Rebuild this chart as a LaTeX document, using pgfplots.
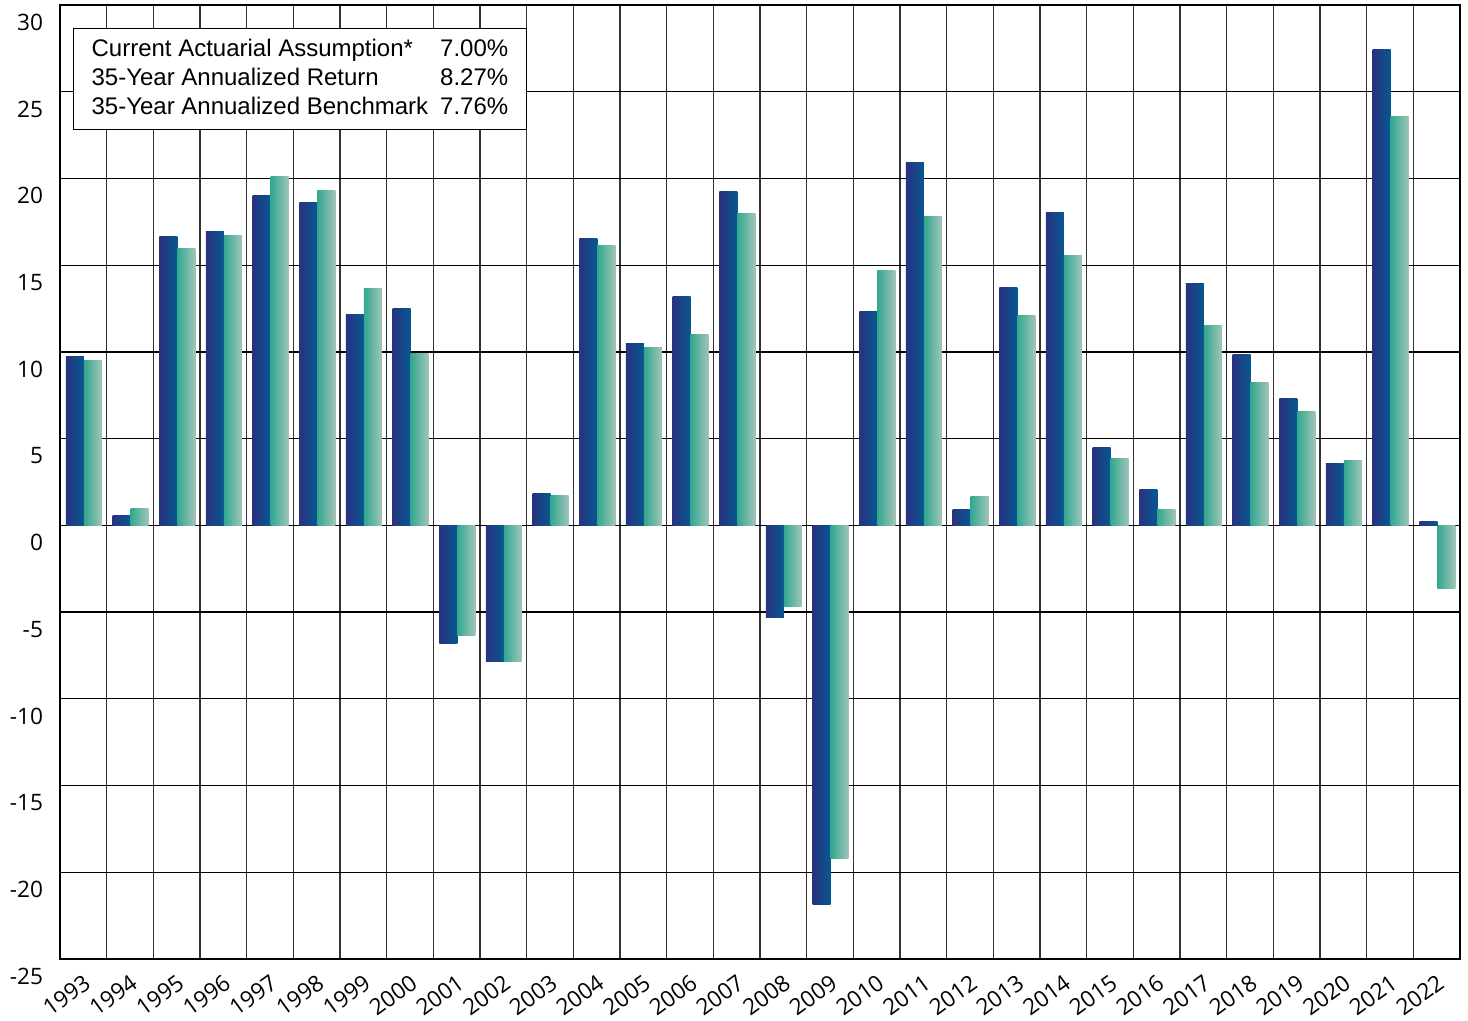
\documentclass[border=0pt]{standalone}
\usepackage{pgfplots}
\pgfplotsset{compat=1.18}
\usepackage{pgfplotstable}
\usepackage{fontspec}
\setmainfont{Liberation Sans}
\newfontfamily\tickfont{Open Sans}
\definecolor{dbL}{RGB}{40,50,128}
\definecolor{dbR}{RGB}{6,88,144}
\definecolor{tlL}{RGB}{50,168,143}
\definecolor{tlR}{RGB}{162,196,186}
\pgfplotstableread{
x r b
0 9.75 9.5
1 0.58 0.98
2 16.67 15.97
3 16.96 16.72
4 19.03 20.13
5 18.63 19.32
6 12.17 13.67
7 12.51 9.92
8 -6.8 -6.34
9 -7.84 -7.84
10 1.85 1.73
11 16.55 16.15
12 10.5 10.27
13 13.2 11.0
14 19.26 18.0
15 -5.3 -4.67
16 -21.86 -19.2
17 12.34 14.7
18 20.93 17.82
19 0.92 1.67
20 13.73 12.11
21 18.05 15.57
22 4.5 3.86
23 2.08 0.92
24 13.96 11.53
25 9.86 8.25
26 7.32 6.57
27 3.58 3.75
28 27.45 23.59
29 0.23 -3.63
}\data
\begin{document}
\begin{tikzpicture}
\begin{axis}[
  name=ax,
  scale only axis,
  width=700pt, height=477pt,
  xmin=-0.5, xmax=29.5,
  ymin=-25, ymax=30,
  ytick={-25,-20,...,30},
  yticklabels={-25,-20,-15,-10,-5,0,5,10,15,20,25,30},
  xtick={0,...,29},
  xticklabels={1993,1994,1995,1996,1997,1998,1999,2000,2001,2002,2003,2004,2005,2006,2007,2008,2009,2010,2011,2012,2013,2014,2015,2016,2017,2018,2019,2020,2021,2022},
  minor xtick={-0.5,0.5,...,29.5},
  xminorgrids, ymajorgrids,
  major tick length=0pt, minor tick length=0pt,
  grid style={black, line width=0.6pt},
  minor grid style={black!80, line width=0.65pt},
  axis line style={black, line width=0.6pt},
  ticklabel style={font=\tickfont\fontsize{11.3}{13}\selectfont},
  yticklabel style={anchor=north east, xshift=-5pt, yshift=-1pt},
  xticklabel style={rotate=36, anchor=north east, yshift=-2pt, xshift=-1pt},
  ybar, bar width=9pt,
]
\pgfplotsinvokeforeach{0,...,29}{
\addplot[draw=none, left color=dbL, right color=dbR, bar shift=-4.2pt, restrict x to domain=#1:#1] table[x=x,y=r]{\data};
\addplot[draw=none, left color=tlL, right color=tlR, bar shift=4.8pt, restrict x to domain=#1:#1] table[x=x,y=b]{\data};
}
\node[draw=black, line width=0.6pt, fill=white, anchor=north west, inner xsep=9pt, inner ysep=3pt,
  font=\fontsize{12}{14.5}\selectfont] at ([shift={(6.5pt,-11.5pt)}]rel axis cs:0,1)
  {\begin{tabular}{@{}l@{\hspace{6pt}}r@{}}
  \rule{0pt}{11pt}Current Actuarial Assumption* & 7.00\% \\
  35-Year Annualized Return & 8.27\% \\
  35-Year Annualized Benchmark & 7.76\%
  \end{tabular}};
\end{axis}
\pgfresetboundingbox
\path[use as bounding box] ([shift={(-30pt,-31pt)}]ax.south west) rectangle ([shift={(4pt,2.5pt)}]ax.north east);
\end{tikzpicture}
\end{document}
